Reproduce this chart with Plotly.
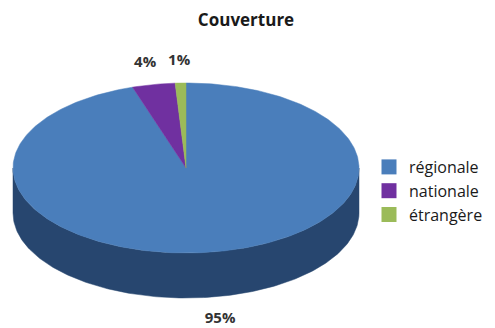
import numpy as np
import plotly.graph_objects as go

# ---- data ----
categories = ["régionale", "nationale", "étrangère"]
values = [95, 4, 1]
labels = ["95%", "4%", "1%"]
top_colors = ["#4a7ebb", "#7030a0", "#9bbb59"]
side_colors = ["#27466f", "#45206a", "#62793a"]
title = "Couverture"

# ---- geometry (pixel space) ----
W, H = 495, 328
cx, cy = 186, 168      # centre of top face
a, b = 173, 85         # semi-axes of top ellipse
depth = 45             # thickness of the pie

def pt(theta, dy=0.0, k=1.0):
    # theta: clockwise angle from 12 o'clock (radians)
    return cx + a * k * np.sin(theta), cy - b * k * np.cos(theta) + dy

fig = go.Figure()
total = float(sum(values))
bounds = np.cumsum([0] + values) / total * 2 * np.pi

# sides (front half only: pi/2 .. 3pi/2)
for i in range(len(values)):
    t1, t2 = bounds[i], bounds[i + 1]
    s1, s2 = max(t1, np.pi / 2), min(t2, 3 * np.pi / 2)
    if s2 <= s1:
        continue
    th = np.linspace(s1, s2, 200)
    xt, yt = pt(th)
    xb, yb = pt(th[::-1], dy=depth)
    fig.add_trace(go.Scatter(
        x=np.concatenate([xt, xb, xt[:1]]), y=np.concatenate([yt, yb, yt[:1]]),
        fill="toself", fillcolor=side_colors[i], mode="lines",
        line=dict(color=side_colors[i], width=0.5), hoverinfo="skip", showlegend=False))

# tops
for i in range(len(values)):
    t1, t2 = bounds[i], bounds[i + 1]
    th = np.linspace(t1, t2, max(int(400 * (t2 - t1) / (2 * np.pi)), 8))
    xs, ys = pt(th)
    fig.add_trace(go.Scatter(
        x=np.concatenate([[cx], xs, [cx]]), y=np.concatenate([[cy], ys, [cy]]),
        fill="toself", fillcolor=top_colors[i], mode="lines",
        line=dict(color=top_colors[i], width=0.5), hoverinfo="skip", showlegend=False))

# labels
lx, ly = [], []
for i in range(len(values)):
    mid = (bounds[i] + bounds[i + 1]) / 2
    x, y = pt(mid, k=1.26)
    if np.cos(mid) < 0:
        y += depth
    lx.append(x); ly.append(y)
fig.add_trace(go.Scatter(x=lx, y=ly, mode="text", text=["<b>" + t + "</b>" for t in labels],
                         textfont=dict(family="Open Sans", size=15, color="#333333"),
                         cliponaxis=False, hoverinfo="skip", showlegend=False))

# legend entries
for i, c in enumerate(categories):
    fig.add_trace(go.Scatter(x=[None], y=[None], mode="markers", name=c,
                             marker=dict(symbol="square", size=15, color=top_colors[i])))

fig.update_layout(
    width=W, height=H, margin=dict(l=0, r=0, t=0, b=0),
    paper_bgcolor="white", plot_bgcolor="white",
    xaxis=dict(range=[0, W], visible=False, fixedrange=True),
    yaxis=dict(range=[H, 0], visible=False, fixedrange=True),
    title=dict(text="<b>" + title + "</b>", x=246 / W, xanchor="center",
               y=1 - 20 / H, yanchor="middle",
               font=dict(family="Open Sans", size=17, color="#1a1a1a")),
    legend=dict(x=369 / W, y=1 - 150 / H, xanchor="left", yanchor="top",
                font=dict(family="Open Sans", size=16, color="#1a1a1a"),
                itemwidth=30, tracegroupgap=0, bgcolor="rgba(0,0,0,0)"),
    showlegend=True,
)
fig.write_html("out.html")
